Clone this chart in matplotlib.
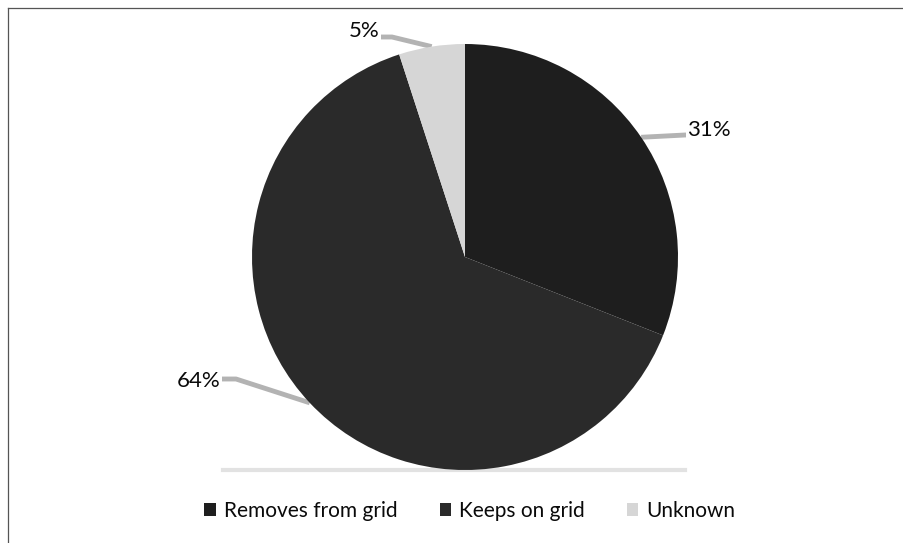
import numpy as np
import matplotlib.pyplot as plt
from matplotlib.lines import Line2D
from matplotlib.patches import Patch

plt.rcParams['font.family'] = ['Lato', 'DejaVu Sans']

labels = ['Removes from grid', 'Keeps on grid', 'Unknown']
shares = [31, 64, 5]
colors = ['#1e1e1e', '#2a2a2a', '#d6d6d6']

W, H = 904, 543

# label anchors and leader elbows in pixel units (y measured from the top)
label_pos = [(687, 130, 'left'), (221, 381, 'right'), (380, 31, 'right')]
elbow_pos = [(685, 135), (236, 379), (392, 37)]
center = (465, 257)
radius = 213


def px(x, y):
    return x, H - y


fig = plt.figure(figsize=(W / 100, H / 100), dpi=100)
ax = fig.add_axes([0, 0, 1, 1])

wedges, _ = ax.pie(shares, colors=colors, startangle=90, counterclock=False,
                   center=px(*center), radius=radius,
                   wedgeprops=dict(edgecolor='none'))
ax.set_xlim(0, W)
ax.set_ylim(0, H)
ax.set_aspect('equal')
ax.axis('off')

cx, cy = px(*center)
for w, v, (lx, ly, ha), (ex, ey) in zip(wedges, shares, label_pos, elbow_pos):
    theta = np.deg2rad((w.theta1 + w.theta2) / 2)
    rx = cx + radius * np.cos(theta)
    ry = cy + radius * np.sin(theta)
    ex, ey = px(ex, ey)
    end = lx - 1 if ha == 'left' else lx + 1
    ax.plot([rx, ex, end], [ry, ey, ey], color='#b3b3b3', lw=3.5,
            solid_capstyle='butt', zorder=0)
    ax.text(lx, px(lx, ly)[1], f'{v}%', ha=ha, va='center', fontsize=16,
            color='#0a0a0a')

# faint baseline under the pie
ax.plot([223, 685], [H - 470, H - 470], color='#e2e2e2', lw=3, zorder=0)

# frame along top and left edge
fig.add_artist(Line2D([8 / W, 1], [1 - 8 / H, 1 - 8 / H], color='#555555',
                      lw=0.9, transform=fig.transFigure))
fig.add_artist(Line2D([8 / W, 8 / W], [0, 1 - 8 / H], color='#555555',
                      lw=0.9, transform=fig.transFigure))

handles = [Patch(facecolor=c, edgecolor='none') for c in colors]
fig.legend(handles, labels, loc='center', bbox_to_anchor=(470 / W, 1 - 511 / H),
           ncol=3, frameon=False, fontsize=15, handlelength=0.55,
           handleheight=0.55, handletextpad=0.4, columnspacing=2.0,
           labelcolor='#0a0a0a')

fig.savefig('out.png', dpi=100)
